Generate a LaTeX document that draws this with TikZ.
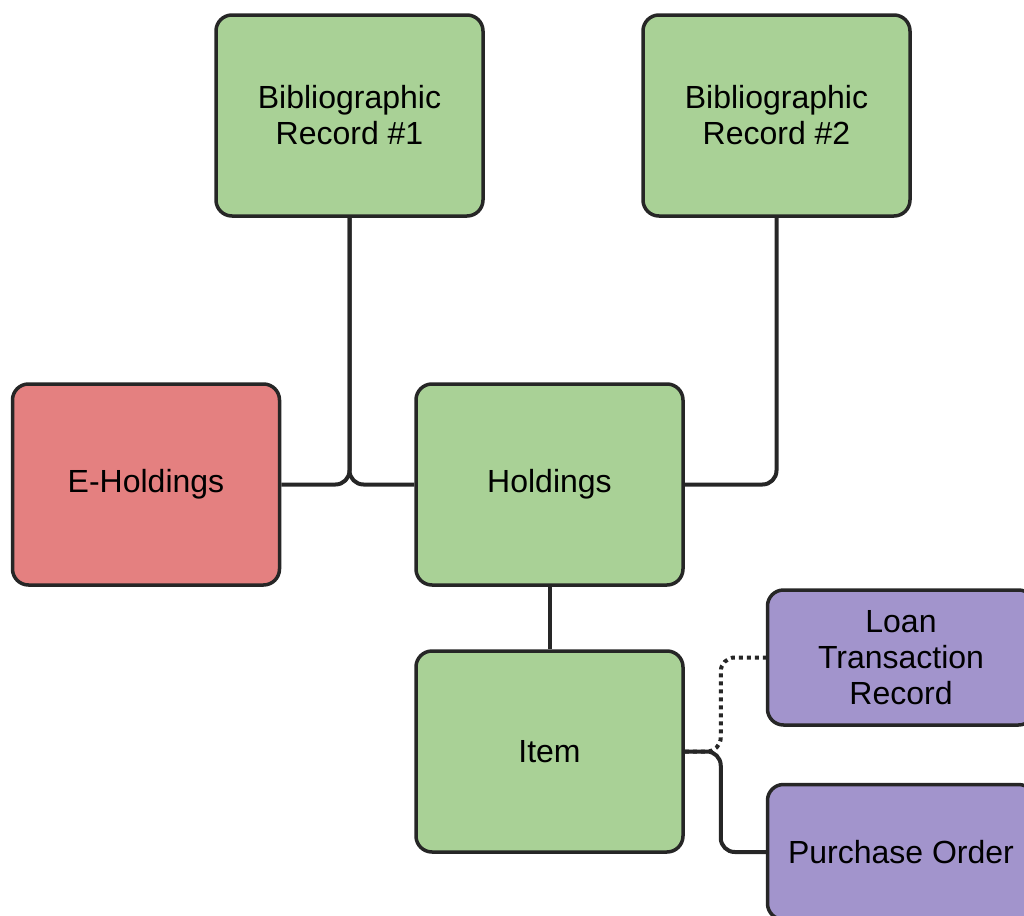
\documentclass[tikz,border=0pt]{standalone}
\usepackage{fontspec}
\setmainfont{Liberation Sans}
\usepackage{tikz}
\usepackage{xcolor}
\usetikzlibrary{arrows.meta}
\usetikzlibrary{calc}
\definecolor{recgreen}{RGB}{169,209,150}
\definecolor{ehred}{RGB}{228,128,128}
\definecolor{linkpurple}{RGB}{162,148,204}
\definecolor{edgegray}{RGB}{38,38,38}

\begin{document}
\begin{tikzpicture}[x=0.5pt,y=-0.5pt,
		box/.style={draw=edgegray, line width=1.75pt, rounded corners=8pt, minimum width=133.5pt, minimum height=100.5pt, inner sep=0pt, align=center, font=\fontsize{16}{18}\selectfont},
		smallbox/.style={box, minimum height=67.5pt},
		conn/.style={draw=edgegray, line width=2pt, rounded corners=7pt}]
		\useasboundingbox (0,0) rectangle (1024,916);
		% records
		\node[box, fill=recgreen] (bibone) at (349.5,115.5) {Bibliographic\\Record \#1};
		\node[box, fill=recgreen] (bibtwo) at (776.5,115.5) {Bibliographic\\Record \#2};
		% holdings
		\node[box, fill=ehred] (eholdings) at (146,484.5) {E-Holdings};
		\node[box, fill=recgreen] (holdings) at (549.5,484.5) {Holdings};
		\node[box, fill=recgreen] (item) at (549.5,751.5) {Item};
		% linked records
		\node[smallbox, fill=linkpurple] (loan) at (901,657.5) {Loan\\Transaction\\Record};
		\node[smallbox, fill=linkpurple] (order) at (901,852) {Purchase Order};
		% connectors
		\draw[conn] (bibone.south) |- (eholdings.east);
		\draw[conn] (bibone.south) |- (holdings.west);
		\draw[conn] (bibtwo.south) |- (holdings.east);
		\draw[conn] (holdings.south) -- (item.north);
		\draw[conn, dotted] (item.east) -- ++(36,0) |- (loan.west);
		\draw[conn] (item.east) -- ++(36,0) |- (order.west);
	\end{tikzpicture}
\end{document}
